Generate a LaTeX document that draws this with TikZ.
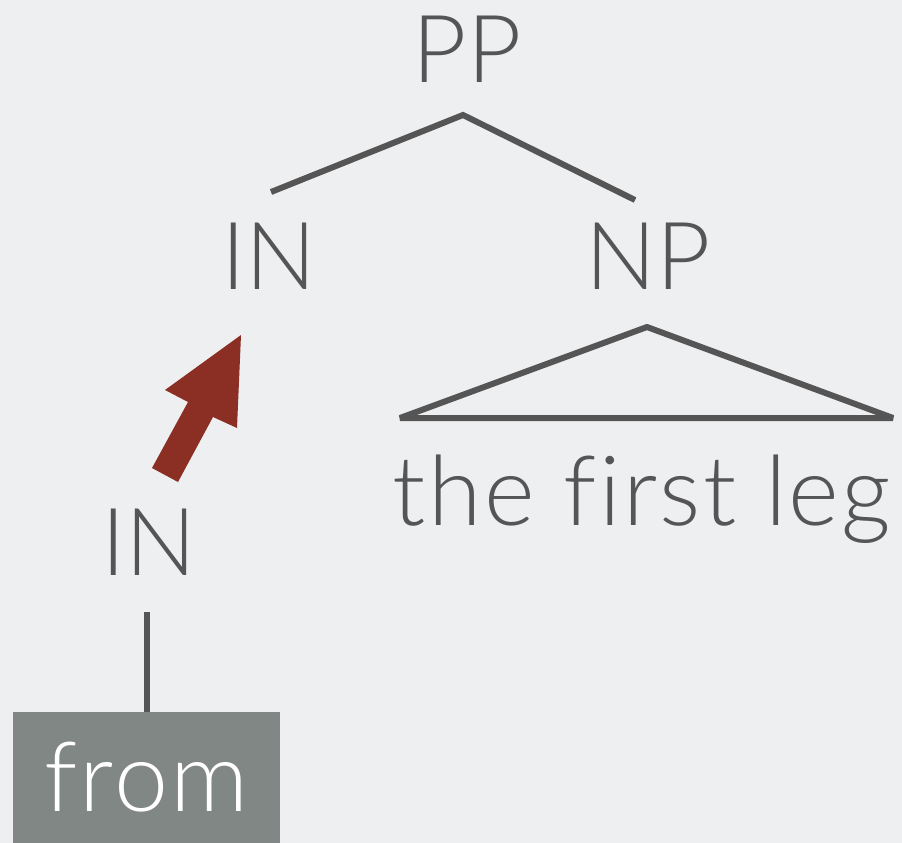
\documentclass[tikz,border=0pt]{standalone}
\usepackage{fontspec}
\setmainfont{Lato Light}[Ligatures=NoCommon]
\newfontfamily\wordfont{Lato Light}[Ligatures=NoCommon, LetterSpace=2.5]
\definecolor{bg}{HTML}{EEEFF1}
\definecolor{ink}{HTML}{555555}
\definecolor{leafbox}{HTML}{808784}
\definecolor{arrowred}{HTML}{8B2E23}
\begin{document}
\begin{tikzpicture}[x=1pt,y=-1pt,
  lbl/.style={inner sep=0pt, anchor=base, text=ink, font=\fontsize{94}{94}\selectfont},
  word/.style={inner sep=0pt, anchor=base, text=ink, font=\wordfont\fontsize{97}{97}\selectfont},
  branch/.style={draw=ink, line width=6pt},
  leaf/.style={fill=leafbox, text=white, inner sep=0pt, minimum width=267pt, minimum height=131pt, font=\wordfont\fontsize{97}{97}\selectfont}]
  \useasboundingbox (0,0) rectangle (902,843);
  \fill[bg] (0,0) rectangle (902,843);

  % tree labels
  \node[lbl] (pp) at (467,82) {PP};
  \node[lbl] (in) at (269,289) {IN};
  \node[lbl] (np) at (648,289) {NP};
  \node[word] (leg) at (642,525) {the first leg};
  \node[lbl] (inlow) at (149,575) {IN};
  \node[leaf] (from) at (146.5,777.5) {from};

  % branch end points
  \coordinate (pptop) at (463,115);
  \coordinate (inend) at (271,192);
  \coordinate (npend) at (635,200);
  \coordinate (npapex) at (647,327);
  \coordinate (triL) at (400,418);
  \coordinate (triR) at (893,418);
  \coordinate (stemtop) at (147,612);

  \draw[branch] (inend) -- (pptop) -- (npend);
  \draw[branch, line join=bevel] (npapex) -- (triL) -- (triR) -- cycle;
  \draw[branch] (stemtop) -- (from.north -| stemtop);

  % block arrow from the lower IN up to the upper IN
  \coordinate (tailA) at (152,468);
  \coordinate (tailB) at (178,482);
  \coordinate (shaftB) at (213,417);
  \coordinate (headB) at (237,428);
  \coordinate (tip) at (241,335);
  \coordinate (headA) at (165,390);
  \coordinate (shaftA) at (188,402);
  \fill[arrowred] (tailA) -- (tailB) -- (shaftB) -- (headB) -- (tip) -- (headA) -- (shaftA) -- cycle;
\end{tikzpicture}
\end{document}
